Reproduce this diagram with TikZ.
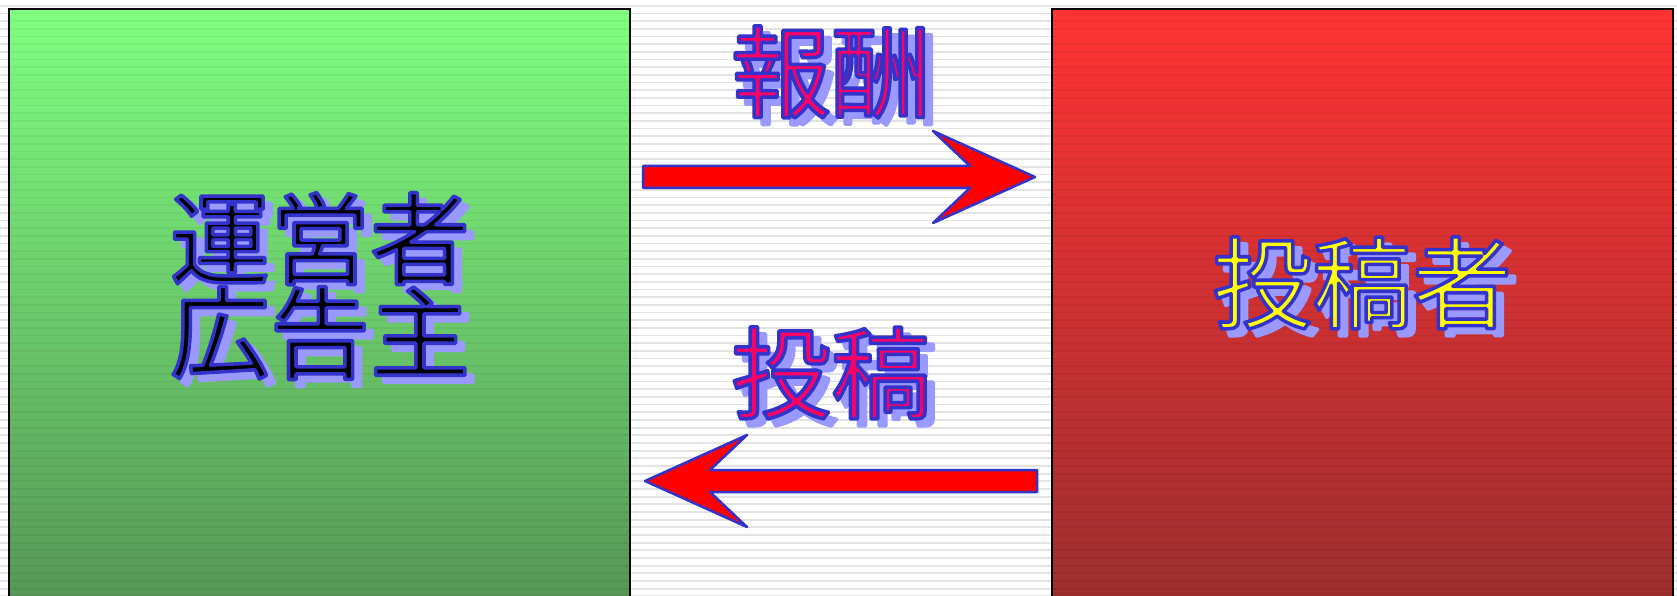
\documentclass[tikz,border=0pt]{standalone}
\usepackage{fontspec}
\newfontfamily\jp{Noto Sans CJK JP}
\usetikzlibrary{calc}
\definecolor{strokeblue}{RGB}{51,51,204}
\definecolor{shadowblue}{RGB}{153,153,255}
\definecolor{arrowshadow}{RGB}{170,170,255}
\definecolor{pinkred}{RGB}{255,0,102}
\definecolor{greentop}{RGB}{128,255,128}
\definecolor{greenbot}{RGB}{84,146,84}
\definecolor{redtop}{RGB}{255,51,51}
\definecolor{redbot}{RGB}{152,46,48}
\definecolor{yellowtxt}{RGB}{255,255,0}
\definecolor{arrowred}{RGB}{255,0,0}

% text drawn with fill colour #1 and a stroked outline (PDF RG values #2, width #3)
\newcommand\strokedtext[4]{{\color{#1}\special{pdf:literal direct #2 RG #3 w 1 j 2 Tr}#4\special{pdf:literal direct 0 Tr}}}
\newcommand\outlined[2]{\strokedtext{#1}{0.2 0.2 0.8}{3.5}{#2}}
\newcommand\shadowed[1]{\strokedtext{shadowblue}{0.6 0.6 1}{3.5}{#1}}
\newcommand\twolines[2]{\vbox{\baselineskip=94pt\lineskiplimit=-\maxdimen\hbox{#1}\hbox{#2}}}

\newcommand\flatarrow[4]{% #1 start, #2 tip, #3 dir sign, #4 style
  \path[#4] ($(#1)+(0,-11)$) -- ($(#2)+({-65*#3},-11)$) -- ($(#2)+({-102*#3},-46)$)
    -- (#2) -- ($(#2)+({-102*#3},46)$) -- ($(#2)+({-65*#3},11)$) -- ($(#1)+(0,11)$) -- cycle;}

\begin{document}
\begin{tikzpicture}[x=1pt,y=-1pt,
  box/.style={draw=black,line width=1.5pt,anchor=north west,inner sep=0pt,
    minimum width=620.5pt,minimum height=620pt},
  stripe/.style={black,opacity=0.11,line width=1.8pt},
  boxstripe/.style={black,opacity=0.045,line width=1.8pt},
  bigtext/.style={font=\jp\fontsize{100pt}{94pt}\selectfont,inner sep=0pt},
  shadowshift/.style={shift={(8,7)}},
  arrowbody/.style={fill=arrowred,draw=strokeblue,line width=2.5pt,line join=round}]
\useasboundingbox (0,0) rectangle (1677,596);
\clip (0,0) rectangle (1677,596);
\fill[white] (0,0) rectangle (1677,596);

% background stripes
\foreach \k in {0,...,78}{
  \draw[stripe] (0,{5.75+7.67*\k}) -- (1677,{5.75+7.67*\k});
}

% boxes
\node[box,top color=greentop,bottom color=greenbot] (left) at (8.5,8.5) {};
\node[box,top color=redtop,bottom color=redbot] (right) at (1051.5,8.5) {};

% faint stripes over the boxes
\begin{scope}
\clip (left.north west) rectangle (left.south east) (right.north west) rectangle (right.south east);
\foreach \k in {0,...,78}{
  \draw[boxstripe] (0,{5.75+7.67*\k}) -- (1677,{5.75+7.67*\k});
}
\end{scope}
\draw[black,line width=1.5pt] (left.south west) -- (left.north west) -- (left.north east) -- (left.south east);
\draw[black,line width=1.5pt] (right.south west) -- (right.north west) -- (right.north east) -- (right.south east);

% arrows
\coordinate (a1s) at (643,177);
\coordinate (a1t) at (1035,177);
\coordinate (a2s) at (1037,481);
\coordinate (a2t) at (645,481);
\begin{scope}[shift={(6,5)}]
\flatarrow{a1s}{a1t}{1}{fill=arrowshadow,line join=round}
\flatarrow{a2s}{a2t}{-1}{fill=arrowshadow,line join=round}
\end{scope}
\flatarrow{a1s}{a1t}{1}{arrowbody}
\flatarrow{a2s}{a2t}{-1}{arrowbody}

% text positions
\coordinate (rewardpos) at (831,72);
\coordinate (postpos) at (831,373);
\coordinate (oppos) at (320,286);
\coordinate (posterpos) at (1362,283);

% shadows
\node[bigtext,shadowshift] (rewardsh) at (rewardpos) {\shadowed{報酬}};
\node[bigtext,shadowshift] (postsh) at (postpos) {\shadowed{投稿}};
\node[bigtext,shadowshift] (opsh) at (oppos) {\shadowed{\twolines{運営者}{広告主}}};
\node[bigtext,shadowshift] (postersh) at (posterpos) {\shadowed{投稿者}};

% texts
\node[bigtext] (reward) at (rewardpos) {\outlined{pinkred}{報酬}};
\node[bigtext] (post) at (postpos) {\outlined{pinkred}{投稿}};
\node[bigtext] (optext) at (oppos) {\outlined{black}{\twolines{運営者}{広告主}}};
\node[bigtext] (postertext) at (posterpos) {\outlined{yellowtxt}{投稿者}};
\end{tikzpicture}
\end{document}
